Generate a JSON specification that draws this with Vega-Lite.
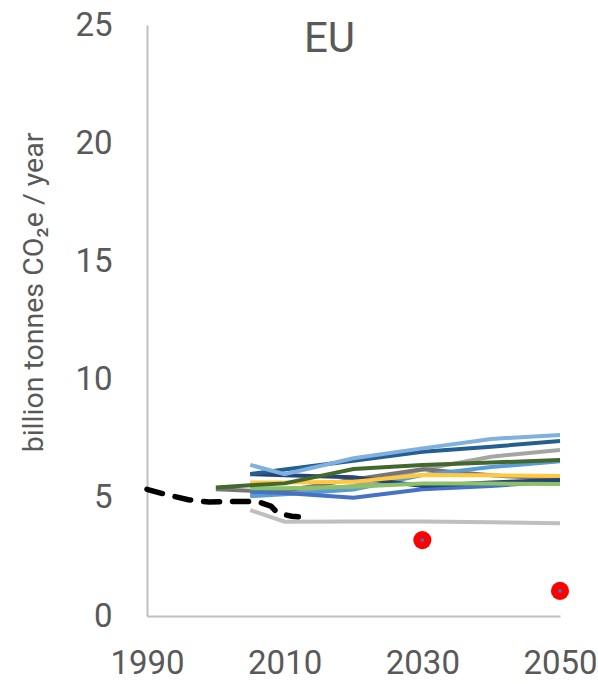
{
  "$schema": "https://vega.github.io/schema/vega-lite/v6.json",
  "width": 413,
  "height": 591,
  "autosize": {"type": "none"},
  "padding": {"left": 147, "top": 25, "right": 38, "bottom": 68},
  "background": "white",
  "config": {
    "font": "Roboto",
    "view": {"stroke": null},
    "axis": {"grid": false, "ticks": false, "domainColor": "#BFBFBF", "domainWidth": 2, "labelColor": "#595959", "titleColor": "#595959", "labelFont": "Roboto", "titleFont": "Roboto", "titleFontWeight": "normal"}
  },
  "title": {
    "text": "EU",
    "anchor": "middle",
    "frame": "group",
    "offset": 0,
    "dy": 52,
    "dx": -24,
    "baseline": "top",
    "fontSize": 42,
    "fontWeight": "normal",
    "color": "#595959",
    "font": "Roboto"
  },
  "datasets": {
    "scenarios": [
      {"series": "m10", "year": 2005, "value": 5.12},
      {"series": "m10", "year": 2010, "value": 5.25},
      {"series": "m10", "year": 2020, "value": 5.5},
      {"series": "m10", "year": 2030, "value": 6.2},
      {"series": "m10", "year": 2040, "value": 6.74},
      {"series": "m10", "year": 2050, "value": 7.02},
      {"series": "m11", "year": 2005, "value": 4.48},
      {"series": "m11", "year": 2010, "value": 3.99},
      {"series": "m11", "year": 2020, "value": 4.0},
      {"series": "m11", "year": 2030, "value": 4.0},
      {"series": "m11", "year": 2040, "value": 3.97},
      {"series": "m11", "year": 2050, "value": 3.92},
      {"series": "m07", "year": 2000, "value": 5.36},
      {"series": "m07", "year": 2005, "value": 5.3},
      {"series": "m07", "year": 2010, "value": 5.3},
      {"series": "m07", "year": 2020, "value": 5.78},
      {"series": "m07", "year": 2030, "value": 6.21},
      {"series": "m07", "year": 2040, "value": 5.95},
      {"series": "m07", "year": 2050, "value": 5.78},
      {"series": "m05", "year": 2005, "value": 5.07},
      {"series": "m05", "year": 2010, "value": 5.15},
      {"series": "m05", "year": 2020, "value": 5.35},
      {"series": "m05", "year": 2030, "value": 5.96},
      {"series": "m05", "year": 2040, "value": 6.3},
      {"series": "m05", "year": 2050, "value": 6.55},
      {"series": "m04", "year": 2005, "value": 5.26},
      {"series": "m04", "year": 2010, "value": 5.2},
      {"series": "m04", "year": 2020, "value": 5.0},
      {"series": "m04", "year": 2030, "value": 5.36},
      {"series": "m04", "year": 2040, "value": 5.5},
      {"series": "m04", "year": 2050, "value": 5.7},
      {"series": "m03", "year": 2005, "value": 6.0},
      {"series": "m03", "year": 2010, "value": 5.95},
      {"series": "m03", "year": 2020, "value": 5.87},
      {"series": "m03", "year": 2030, "value": 5.5},
      {"series": "m03", "year": 2040, "value": 5.65},
      {"series": "m03", "year": 2050, "value": 5.75},
      {"series": "m09", "year": 2005, "value": 5.4},
      {"series": "m09", "year": 2010, "value": 5.4},
      {"series": "m09", "year": 2020, "value": 5.47},
      {"series": "m09", "year": 2030, "value": 5.61},
      {"series": "m09", "year": 2040, "value": 5.6},
      {"series": "m09", "year": 2050, "value": 5.58},
      {"series": "m08", "year": 2005, "value": 5.65},
      {"series": "m08", "year": 2010, "value": 5.65},
      {"series": "m08", "year": 2020, "value": 5.68},
      {"series": "m08", "year": 2030, "value": 5.96},
      {"series": "m08", "year": 2040, "value": 5.95},
      {"series": "m08", "year": 2050, "value": 5.92},
      {"series": "m06", "year": 2000, "value": 5.44},
      {"series": "m06", "year": 2005, "value": 5.53},
      {"series": "m06", "year": 2010, "value": 5.61},
      {"series": "m06", "year": 2020, "value": 6.22},
      {"series": "m06", "year": 2030, "value": 6.39},
      {"series": "m06", "year": 2040, "value": 6.49},
      {"series": "m06", "year": 2050, "value": 6.6},
      {"series": "m02", "year": 2005, "value": 6.01},
      {"series": "m02", "year": 2010, "value": 6.2},
      {"series": "m02", "year": 2020, "value": 6.57},
      {"series": "m02", "year": 2030, "value": 6.95},
      {"series": "m02", "year": 2040, "value": 7.16},
      {"series": "m02", "year": 2050, "value": 7.4},
      {"series": "m01", "year": 2005, "value": 6.39},
      {"series": "m01", "year": 2010, "value": 6.0},
      {"series": "m01", "year": 2020, "value": 6.67},
      {"series": "m01", "year": 2030, "value": 7.09},
      {"series": "m01", "year": 2040, "value": 7.49},
      {"series": "m01", "year": 2050, "value": 7.66}
    ],
    "history": [
      {"year": 1990, "value": 5.36},
      {"year": 1993, "value": 5.12},
      {"year": 1996, "value": 4.92},
      {"year": 1999, "value": 4.82},
      {"year": 2002, "value": 4.84},
      {"year": 2006, "value": 4.85},
      {"year": 2008, "value": 4.65},
      {"year": 2009, "value": 4.35},
      {"year": 2011, "value": 4.22},
      {"year": 2012, "value": 4.2}
    ],
    "targets": [
      {"year": 2030, "value": 3.21},
      {"year": 2050, "value": 1.06}
    ]
  },
  "encoding": {
    "x": {
      "field": "year",
      "type": "quantitative",
      "scale": {"domain": [1990, 2050], "nice": false, "zero": false},
      "axis": {"values": [1990, 2010, 2030, 2050], "format": "d", "title": null, "labelFontSize": 33, "labelPadding": 31, "labelFlush": false}
    },
    "y": {
      "field": "value",
      "type": "quantitative",
      "scale": {"domain": [0, 25], "nice": false},
      "axis": {"values": [0, 5, 10, 15, 20, 25], "title": "billion tonnes CO₂e / year", "titleFontSize": 28.5, "titleX": -105, "titleY": 267, "titleAngle": -90, "titleAlign": "center", "titleBaseline": "alphabetic", "labelFontSize": 33, "labelPadding": 35}
    }
  },
  "layer": [
    {
      "data": {"name": "scenarios"},
      "mark": {"type": "line", "strokeWidth": 4, "strokeCap": "butt"},
      "encoding": {
        "color": {
          "field": "series",
          "type": "nominal",
          "sort": ["m10", "m11", "m07", "m05", "m04", "m03", "m09", "m08", "m06", "m02", "m01"],
          "scale": {
            "domain": ["m10", "m11", "m07", "m05", "m04", "m03", "m09", "m08", "m06", "m02", "m01"],
            "range": ["#A5A5A5", "#BFBFBF", "#767676", "#5B9BD5", "#4472C4", "#264478", "#8CC168", "#FFC83D", "#43682B", "#255E91", "#7FB0DF"]
          },
          "legend": null
        }
      }
    },
    {
      "data": {"name": "history"},
      "mark": {"type": "line", "color": "black", "strokeWidth": 5.5, "strokeDash": [16, 13], "strokeCap": "round"},
      "encoding": {}
    },
    {
      "data": {"name": "targets"},
      "mark": {"type": "point", "filled": true, "color": "#FF0000", "size": 330, "opacity": 1},
      "encoding": {}
    },
    {
      "data": {"name": "targets"},
      "mark": {"type": "point", "filled": true, "color": "#4472C4", "size": 14, "opacity": 1},
      "encoding": {}
    }
  ]
}
